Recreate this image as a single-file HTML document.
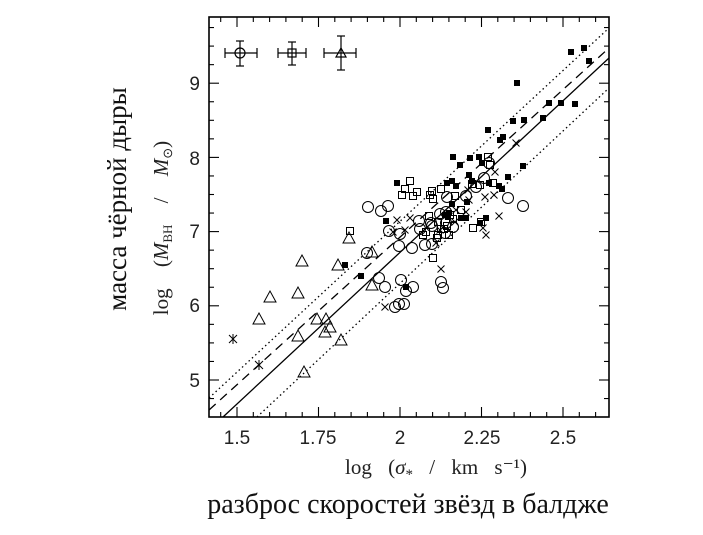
<!DOCTYPE html>
<html><head><meta charset="utf-8"><style>
html,body{margin:0;padding:0;background:#fff;}
svg{display:block;}
</style></head><body>
<svg id="s" width="703" height="535" xmlns="http://www.w3.org/2000/svg" font-family="Liberation Sans, sans-serif">
<rect x="209" y="17" width="400" height="400" fill="none" stroke="#000" stroke-width="1.6"/>
<g id="ticks" stroke="#000" stroke-width="1.1"></g>
<g font-size="19" text-anchor="middle" fill="#222">
<text x="237" y="444">1.5</text><text x="318" y="444">1.75</text><text x="400" y="444">2</text><text x="482" y="444">2.25</text><text x="563" y="444">2.5</text>
</g>
<g font-size="19" text-anchor="end" fill="#222">
<text x="200" y="90">9</text><text x="200" y="165">8</text><text x="200" y="238">7</text><text x="200" y="312">6</text><text x="200" y="387">5</text>
</g>
<line x1="223" y1="417" x2="609" y2="58" stroke="#000" stroke-width="1.3"/>
<line x1="209" y1="410" x2="609" y2="48" stroke="#000" stroke-width="1.3" stroke-dasharray="9,6"/>
<line x1="209" y1="398" x2="609" y2="28" stroke="#000" stroke-width="1.3" stroke-dasharray="1.5,3"/>
<line x1="257" y1="417" x2="609" y2="88" stroke="#000" stroke-width="1.3" stroke-dasharray="1.5,3"/>
<g id="pts" fill="none" stroke="#000" stroke-width="1"></g>
<g stroke="#000" stroke-width="1.2" fill="none">
<line x1="225" y1="53" x2="257" y2="53"/><line x1="225" y1="48" x2="225" y2="58"/><line x1="257" y1="48" x2="257" y2="58"/>
<line x1="240" y1="41" x2="240" y2="66"/><line x1="236" y1="41" x2="244" y2="41"/><line x1="236" y1="66" x2="244" y2="66"/>
<circle cx="240" cy="53" r="5"/>
<line x1="278" y1="53" x2="306" y2="53"/><line x1="278" y1="48" x2="278" y2="58"/><line x1="306" y1="48" x2="306" y2="58"/>
<line x1="292" y1="42" x2="292" y2="65"/><line x1="288" y1="42" x2="296" y2="42"/><line x1="288" y1="65" x2="296" y2="65"/>
<rect x="288" y="49" width="8" height="8"/>
<line x1="324" y1="53" x2="356" y2="53"/><line x1="324" y1="48" x2="324" y2="58"/><line x1="356" y1="48" x2="356" y2="58"/>
<line x1="341" y1="36" x2="341" y2="70"/><line x1="337" y1="36" x2="345" y2="36"/><line x1="337" y1="70" x2="345" y2="70"/>
<path d="M336,57 L346,57 L341,48 Z"/>
</g>
<text x="436" y="474" text-anchor="middle" font-size="21" word-spacing="11" font-family="Liberation Serif, serif" fill="#222">log (<tspan font-style="italic">σ</tspan><tspan font-size="15" dy="5">*</tspan><tspan dy="-5"> / km s⁻¹)</tspan></text>
<text transform="translate(168,228) rotate(-90)" text-anchor="middle" font-size="21" word-spacing="16" font-family="Liberation Serif, serif" fill="#222">log (<tspan font-style="italic">M</tspan><tspan font-size="13" dy="4">BH</tspan><tspan dy="-4"> / </tspan><tspan font-style="italic">M</tspan><tspan font-size="13" dy="4">⊙</tspan><tspan dy="-4">)</tspan></text>
<text transform="translate(126,199) rotate(-90)" font-size="27" text-anchor="middle" font-family="Liberation Serif, serif" fill="#111">масса чёрной дыры</text>
<text x="408" y="513" font-size="28" text-anchor="middle" font-family="Liberation Serif, serif" fill="#111">разброс скоростей звёзд в балдже</text>
</svg>
<script>
var NS="http://www.w3.org/2000/svg";
function el(p,t,a){var e=document.createElementNS(NS,t);for(var k in a)e.setAttribute(k,a[k]);p.appendChild(e);return e;}
var T=document.getElementById("ticks");
function X(v){return 400+(v-2)*326;}function Y(v){return 380-(v-5)*74.2;}
for(var i=0;i<=25;i++){var v=1.45+i*0.05;var x=X(v);if(x<210||x>608)continue;var maj=Math.abs((v*4)-Math.round(v*4))<0.01;var L=maj?10:5;
el(T,"line",{x1:x,y1:417,x2:x,y2:417-L});el(T,"line",{x1:x,y1:17,x2:x,y2:17+L});}
for(var i=0;i<=25;i++){var v=4.5+i*0.25;var y=Y(v);if(y<18||y>416)continue;var maj=Math.abs(v-Math.round(v))<0.01;var L=maj?10:5;
el(T,"line",{x1:209,y1:y,x2:209+L,y2:y});el(T,"line",{x1:609,y1:y,x2:609-L,y2:y});}
var P=document.getElementById("pts");
var fs=[[571,52],[584,48],[589,61],[517,83],[513,121],[524,120],[543,118],[549,103],[561,103],[575,104],[500,140],[503,137],[488,130],[479,157],[482,163],[453,157],[460,165],[470,158],[469,175],[472,181],[489,183],[499,186],[502,189],[508,177],[523,166],[397,183],[447,183],[452,181],[456,186],[448,217],[445,215],[467,202],[452,204],[449,213],[466,218],[486,218],[386,221],[461,218],[480,223],[345,265],[361,276],[406,287]];
fs.forEach(function(p){el(P,"rect",{x:p[0]-3,y:p[1]-3,width:6,height:6,fill:"#000",stroke:"none"});});
var os=[[488,157],[490,165],[493,183],[480,185],[472,184],[433,199],[410,181],[405,189],[402,195],[413,196],[417,192],[430,195],[432,191],[441,189],[455,196],[461,210],[429,216],[438,222],[453,219],[473,228],[481,222],[438,235],[426,232],[423,235],[441,229],[444,229],[447,226],[433,258],[437,238],[450,215],[350,231],[449,235]];
os.forEach(function(p){el(P,"rect",{x:p[0]-3.5,y:p[1]-3.5,width:7,height:7});});
var cs=[[368,207],[381,211],[388,206],[389,231],[367,253],[379,278],[385,287],[401,280],[406,291],[413,287],[395,307],[399,304],[404,304],[400,234],[399,246],[419,221],[420,229],[425,245],[431,223],[432,244],[446,212],[446,223],[445,233],[453,227],[441,282],[443,288],[523,206],[508,198],[447,197],[466,196],[476,187],[484,178],[489,163],[440,214],[432,226],[412,248]];
cs.forEach(function(p){el(P,"circle",{cx:p[0],cy:p[1],r:5.5});});
var ts=[[349,238],[372,252],[302,261],[338,265],[270,297],[298,293],[372,285],[259,319],[317,319],[326,319],[330,327],[298,336],[325,332],[341,340],[304,372]];
ts.forEach(function(p){el(P,"path",{d:"M"+(p[0]-6)+","+(p[1]+5)+" L"+(p[0]+6)+","+(p[1]+5)+" L"+p[0]+","+(p[1]-6)+" Z"});});
var xs=[[516,143],[495,172],[494,195],[485,197],[456,210],[466,212],[469,200],[410,218],[397,220],[393,232],[440,230],[499,216],[483,228],[486,235],[441,269],[385,307],[405,230],[436,243],[455,222],[468,190]];
xs.forEach(function(p){var d=3.5;el(P,"path",{d:"M"+(p[0]-d)+","+(p[1]-d)+" L"+(p[0]+d)+","+(p[1]+d)+" M"+(p[0]-d)+","+(p[1]+d)+" L"+(p[0]+d)+","+(p[1]-d)});});
[[233,339],[259,365]].forEach(function(p){var d=4;el(P,"path",{d:"M"+(p[0]-d)+","+(p[1]-d)+" L"+(p[0]+d)+","+(p[1]+d)+" M"+(p[0]-d)+","+(p[1]+d)+" L"+(p[0]+d)+","+(p[1]-d)+" M"+p[0]+","+(p[1]-5)+" L"+p[0]+","+(p[1]+5)});});
</script>
</body></html>
